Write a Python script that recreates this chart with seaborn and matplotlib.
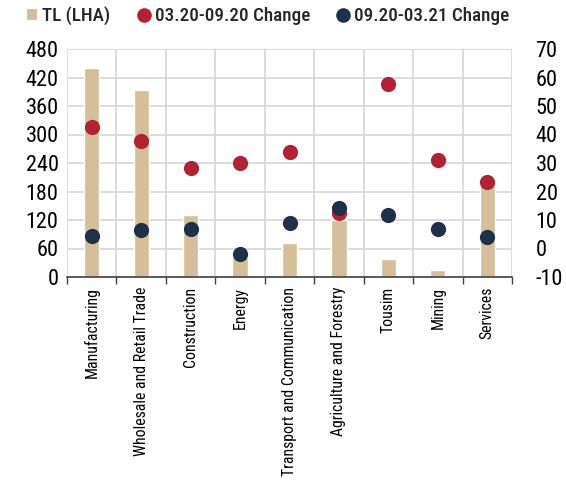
import matplotlib
matplotlib.use("Agg")
import matplotlib.pyplot as plt
from matplotlib.lines import Line2D
from matplotlib.patches import Patch
import seaborn as sns
import pandas as pd
import numpy as np

sectors = ["Manufacturing", "Wholesale and Retail Trade", "Construction", "Energy",
           "Transport and Communication", "Agriculture and Forestry", "Tousim",
           "Mining", "Services"]
tl_lha = [441, 394, 130, 42, 72, 120, 38, 15, 200]
change_mar_sep20 = [42.7, 37.8, 28.4, 29.9, 33.7, 12.3, 57.7, 31.1, 23.2]
change_sep20_mar21 = [4.4, 6.5, 6.7, -2.0, 8.8, 14.1, 11.8, 6.7, 3.9]

left_ticks = [0, 60, 120, 180, 240, 300, 360, 420, 480]
right_ticks = [-10, 0, 10, 20, 30, 40, 50, 60, 70]

TAN = "#D5BE9A"
RED = "#B22234"
NAVY = "#1D3249"
GRID = "#D9D9D9"

sns.set_theme(style="white")
plt.rcParams["font.family"] = ["Roboto Condensed", "DejaVu Sans"]

df = pd.DataFrame({"sector": sectors, "tl": tl_lha,
                   "c1": change_mar_sep20, "c2": change_sep20_mar21})

fig = plt.figure(figsize=(5.66, 4.8), dpi=100)
ax = fig.add_axes([67 / 566, 1 - 277 / 480, (512 - 67) / 566, (277 - 49) / 480])

sns.barplot(data=df, x="sector", y="tl", color=TAN, width=0.31,
            saturation=1, ax=ax, zorder=2)
ax.set_ylim(0, 480)
ax.set_xlim(-0.5, len(sectors) - 0.5)
ax.set_yticks(left_ticks)
ax.set_yticklabels([str(t) for t in left_ticks], fontsize=16, color="black")
ax.set_xlabel("")
ax.set_ylabel("")

# category boundaries as minor ticks for the vertical grid
ax.set_xticks(np.arange(-0.5, len(sectors), 1.0), minor=True)
ax.set_xticks(range(len(sectors)))
ax.set_xticklabels(sectors, rotation=90, fontsize=11.3, color="black")
ax.tick_params(axis="x", which="major", length=0, pad=7)
ax.tick_params(axis="x", which="minor", length=5, width=1, color="#404040",
               direction="out", bottom=True)
ax.tick_params(axis="y", length=0, pad=6)
ax.grid(True, axis="y", which="major", color=GRID, lw=1.3, zorder=0)
ax.grid(True, axis="x", which="minor", color=GRID, lw=1.3, zorder=0)
ax.grid(False, axis="x", which="major")
ax.set_axisbelow(True)
for s in ["top", "left", "right"]:
    ax.spines[s].set_visible(False)
ax.spines["bottom"].set_color("#404040")
ax.spines["bottom"].set_linewidth(1.2)

ax2 = ax.twinx()
sns.scatterplot(data=df, x="sector", y="c1", color=RED, s=120, linewidth=0,
                ax=ax2, zorder=3)
sns.scatterplot(data=df, x="sector", y="c2", color=NAVY, s=120, linewidth=0,
                ax=ax2, zorder=4)
ax2.set_ylim(-10, 70)
ax2.set_xlim(-0.5, len(sectors) - 0.5)
ax2.set_yticks(right_ticks)
ax2.set_yticklabels([str(t) for t in right_ticks], fontsize=16, color="black")
ax2.tick_params(axis="y", length=0, pad=17)
ax2.set_ylabel("")
ax2.set_xlabel("")
ax2.grid(False)
for s in ["top", "left", "right", "bottom"]:
    ax2.spines[s].set_visible(False)

handles = [
    Patch(facecolor=TAN, edgecolor="none"),
    Line2D([], [], marker="o", ls="", color=RED, markersize=9.5),
    Line2D([], [], marker="o", ls="", color=NAVY, markersize=9.5),
]
labels = ["TL (LHA)", "03.20-09.20 Change", "09.20-03.21 Change"]
fig.legend(handles, labels, loc="center left", bbox_to_anchor=(27 / 566, 1 - 16 / 480),
           ncol=3, frameon=False, prop={"size": 13.8, "weight": "medium"},
           handlelength=0.5, handleheight=0.5, handletextpad=0.3,
           columnspacing=1.5, borderpad=0, borderaxespad=0)

fig.savefig("out.png", dpi=100)
